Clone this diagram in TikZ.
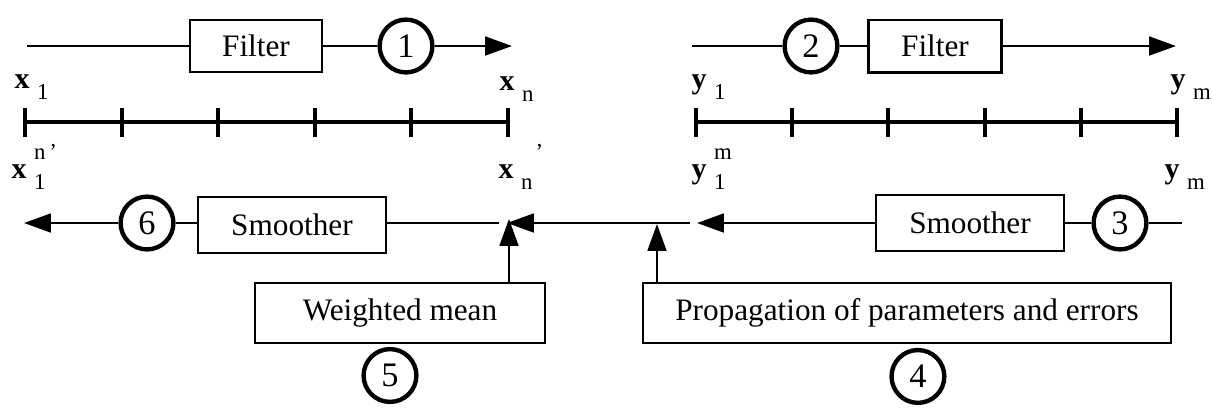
\documentclass[tikz,border=0pt]{standalone}
\usepackage{fontspec}
\setmainfont{Liberation Serif}
\usetikzlibrary{positioning,arrows.meta,calc}
\newcommand{\labsub}{\fontsize{7.3}{8}\selectfont}
\newcommand{\axlab}[3]{{\fontsize{9.6}{11}\selectfont\bfseries #1}\hspace{2.4pt}\rlap{\raisebox{5.8pt}{\labsub #2}}\raisebox{-3.6pt}{\labsub #3}}
\tikzset{x=0.32pt, y=-0.32pt,
  block/.style={draw, line width=0.7pt, inner sep=0pt, font=\fontsize{10}{12}\selectfont},
  stage/.style={draw, circle, line width=1.4pt, minimum size=16.9pt, inner sep=0pt, font=\fontsize{11}{13}\selectfont},
  flow/.style={line width=0.8pt},
  tip/.style={-{Triangle[length=8.6pt,width=6pt]}},
  axis/.style={line width=1.3pt},
  lab/.style={anchor=base west, inner sep=0pt}}

\begin{document}
\begin{tikzpicture}
  \useasboundingbox (0,0) rectangle (1212,407);

  \node[block, minimum width=42pt, minimum height=16.6pt] (filt1) at (256,46) {Filter};
  \node[stage] (s1) at (406,46) {1};
  \coordinate (fin1) at (27,46);
  \coordinate (fout1) at (512,46);

  \node[stage] (s2) at (811,46) {2};
  \node[block, minimum width=42.6pt, minimum height=16.9pt] (filt2) at (935,46) {Filter};
  \coordinate (fin2) at (692,46);
  \coordinate (fout2) at (1176,46);

  \draw[flow] (fin1) -- (filt1);
  \draw[flow] (filt1) -- (s1);
  \draw[flow,tip] (s1) -- (fout1);
  \draw[flow] (fin2) -- (s2);
  \draw[flow] (s2) -- (filt2);
  \draw[flow,tip] (filt2) -- (fout2);

  \coordinate (xa) at (25,122);
  \coordinate (xb) at (508,122);
  \coordinate (ya) at (696,122);
  \coordinate (yb) at (1177,122);
  \draw[axis] (xa) -- (xb);
  \draw[axis] (ya) -- (yb);
  \foreach \i in {0,...,5} {
    \draw[axis] ($(xa)!\i/5!(xb)+(0,-14.5)$) -- ($(xa)!\i/5!(xb)+(0,14.5)$);
    \draw[axis] ($(ya)!\i/5!(yb)+(0,-14.5)$) -- ($(ya)!\i/5!(yb)+(0,14.5)$);
  }

  \node[lab] (lx1) at (14,88) {\axlab{x}{}{1}};
  \node[lab] (lxn) at (499,90) {\axlab{x}{}{n}};
  \node[lab] (lx1n) at (11,178) {\axlab{x}{n\,'}{1}};
  \node[lab] (lxnp) at (498,178) {\axlab{x}{\hspace{4.6pt}'}{n}};
  \node[lab] (ly1) at (691,88) {\axlab{y}{}{1}};
  \node[lab] (lym) at (1170,88) {\axlab{y}{}{m}};
  \node[lab] (ly1m) at (691,178) {\axlab{y}{m}{1}};
  \node[lab] (lymb) at (1164,178) {\axlab{y}{}{m}};

  \node[stage] (s6) at (147,223) {6};
  \node[block, minimum width=60.3pt, minimum height=18pt] (smooth1) at (292,225) {Smoother};
  \node[block, minimum width=60pt, minimum height=17.8pt] (smooth2) at (970,223) {Smoother};
  \node[stage] (s3) at (1120,223) {3};
  \coordinate (sin) at (1182,223);
  \coordinate (sout) at (24,223);
  \coordinate (g1) at (697,223);
  \coordinate (g2) at (690,223);
  \coordinate (g3) at (507,223);
  \coordinate (g4) at (499,223);

  \draw[flow] (sin) -- (s3);
  \draw[flow] (s3) -- (smooth2);
  \draw[flow,tip] (smooth2) -- (g1);
  \draw[flow,tip] (g2) -- (g3);
  \draw[flow] (g4) -- (smooth1.east |- g4);
  \draw[flow] (smooth1.west |- s6) -- (s6);
  \draw[flow,tip] (s6) -- (sout);

  \node[block, minimum width=93pt, minimum height=19pt] (wmean) at (400,313) {Weighted mean};
  \node[block, minimum width=169.2pt, minimum height=19.2pt] (prop) at (907,313) {Propagation of parameters and errors};
  \node[stage, below=1pt of wmean, xshift=-3.2pt] (s5) {5};
  \node[stage, below=1.2pt of prop, xshift=3.5pt] (s4) {4};
  \coordinate (wtip) at (509,219);
  \coordinate (ptip) at (657,224);

  \draw[flow,tip] (wmean.north -| wtip) -- (wtip);
  \draw[flow,tip] (prop.north -| ptip) -- (ptip);
\end{tikzpicture}
\end{document}
